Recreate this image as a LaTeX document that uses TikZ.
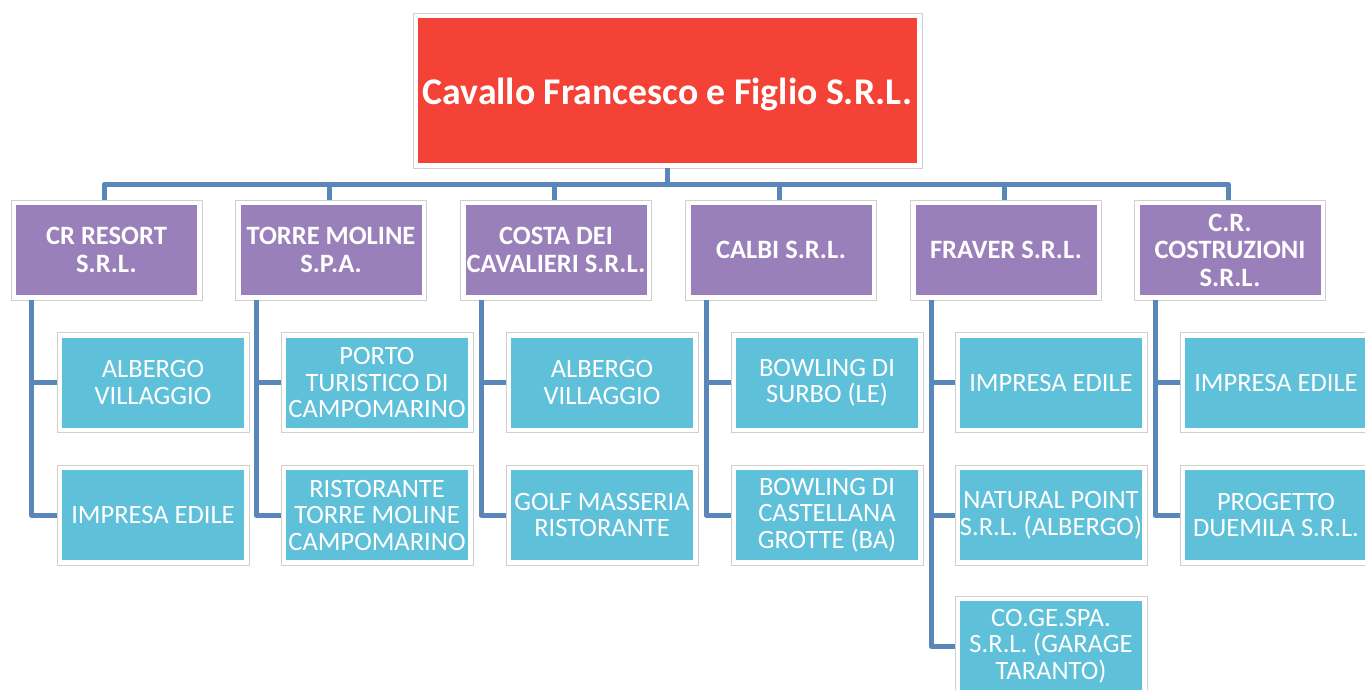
\documentclass[tikz,border=0pt]{standalone}
\usepackage{fontspec}
\setmainfont{Carlito}
\definecolor{topred}{HTML}{F44336}
\definecolor{purp}{HTML}{9A80BA}
\definecolor{cyanb}{HTML}{5FC0DA}
\definecolor{linec}{HTML}{5A87B9}
\definecolor{framec}{HTML}{CFCFCF}
\begin{document}
\begin{tikzpicture}[x=1pt,y=-1pt,
  frame/.style={draw=framec, fill=white, line width=0.8pt,
    inner sep=0pt, align=center, text=white,
    path picture={\fill[#1] ([shift={(5pt,-5pt)}]path picture bounding box.north west)
       rectangle ([shift={(-5pt,5pt)}]path picture bounding box.south east);}},
  topbox/.style={frame=topred, minimum width=509pt, minimum height=155pt,
    font=\fontsize{37.7}{40}\selectfont\bfseries},
  compbox/.style={frame=purp, minimum width=191pt, minimum height=100pt,
    font=\fontsize{26.5}{27.5}\selectfont\bfseries},
  actbox/.style={frame=cyanb, minimum width=192pt, minimum height=100pt,
    font=\fontsize{26.5}{26.5}\selectfont},
  conn/.style={draw=linec, line width=5pt, line join=round}]
\clip (0,0) rectangle (1365,690);
\fill[white] (0,0) rectangle (1365,690);

\coordinate (bus) at (0,184);

% top
\node[topbox] (top) at (667.5,90.5) {\raisebox{-4pt}[\height][\depth]{Cavallo Francesco e Figlio S.R.L.}};

% companies
\node[compbox] (c1) at (106.5,250) {CR RESORT\\S.R.L.};
\node[compbox] (c2) at (331,250) {TORRE MOLINE\\S.P.A.};
\node[compbox] (c3) at (556,250) {COSTA DEI\\CAVALIERI S.R.L.};
\node[compbox] (c4) at (781,250) {CALBI S.R.L.};
\node[compbox] (c5) at (1006,250) {FRAVER S.R.L.};
\node[compbox] (c6) at (1230,250) {C.R.\\COSTRUZIONI\\S.R.L.};

% activities
\node[actbox] (a11) at (153,382.5) {ALBERGO\\VILLAGGIO};
\node[actbox] (a12) at (153,515) {IMPRESA EDILE};
\node[actbox] (a21) at (377,382.5) {PORTO\\TURISTICO DI\\CAMPOMARINO};
\node[actbox] (a22) at (377,515) {RISTORANTE\\TORRE MOLINE\\CAMPOMARINO};
\node[actbox] (a31) at (602,382.5) {ALBERGO\\VILLAGGIO};
\node[actbox] (a32) at (602,515) {GOLF MASSERIA\\RISTORANTE};
\node[actbox] (a41) at (827,382.5) {BOWLING DI\\SURBO (LE)};
\node[actbox] (a42) at (827,515) {BOWLING DI\\CASTELLANA\\GROTTE (BA)};
\node[actbox] (a51) at (1051,382.5) {IMPRESA EDILE};
\node[actbox] (a52) at (1051,515) {NATURAL POINT\\S.R.L. (ALBERGO)};
\node[actbox] (a53) at (1051,646) {CO.GE.SPA.\\S.R.L. (GARAGE\\TARANTO)};
\node[actbox] (a61) at (1276,382.5) {IMPRESA EDILE};
\node[actbox] (a62) at (1276,515) {PROGETTO\\DUEMILA S.R.L.};

% connectors top -> companies
\foreach \c in {c1,c2,c3,c4,c5,c6}{
  \draw[conn] (top.south) -- (top.south |- bus) -| ([xshift=-2pt]\c.north);
}

% connectors companies -> activities
\foreach \c/\a in {c1/a11,c1/a12,c2/a21,c2/a22,c3/a31,c3/a32,c4/a41,c4/a42,
                   c5/a51,c5/a52,c5/a53,c6/a61,c6/a62}{
  \draw[conn] ([xshift=-75pt]\c.south) |- (\a.west);
}
\end{tikzpicture}
\end{document}
